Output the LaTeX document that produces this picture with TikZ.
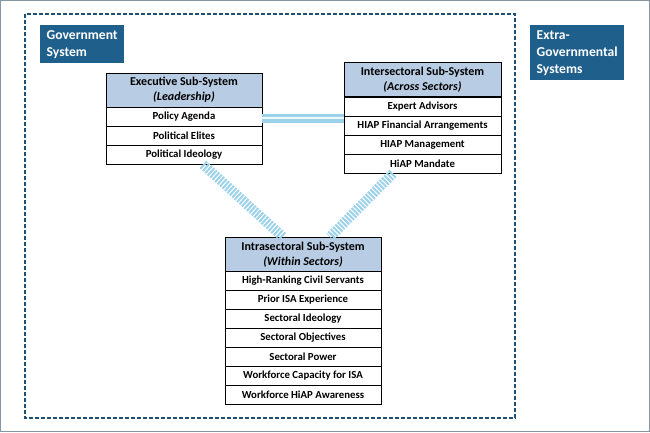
\documentclass[tikz,border=0pt]{standalone}
\usepackage{fontspec}
\setmainfont{Carlito}
\usetikzlibrary{positioning}
\definecolor{govblue}{HTML}{1F5F8C}
\definecolor{dashblue}{HTML}{1F4E79}
\definecolor{headblue}{HTML}{B8CCE4}
\definecolor{linkblue}{HTML}{9CD2EA}
\definecolor{framegrey}{HTML}{8595A2}
\tikzset{
  label box/.style={fill=govblue, text=white, anchor=north west, inner sep=3pt,
    align=left, font=\fontsize{13.6}{17}\selectfont\bfseries},
  head box/.style={draw, fill=headblue, anchor=north, minimum width=156pt,
    minimum height=34pt, inner sep=0pt, align=center,
    font=\fontsize{12}{15}\selectfont\bfseries},
  row box/.style={draw, fill=white, anchor=north, minimum width=156pt,
    minimum height=19pt, inner sep=0pt, font=\fontsize{10.8}{12}\selectfont\bfseries},
  rail/.style={linkblue, line width=10pt, dash pattern=on 2pt off 1.3pt},
  double rail/.style={linkblue, line width=3.5pt, double=white!85!linkblue, double distance=2pt}
}
\begin{document}
\begin{tikzpicture}[x=1pt,y=-1pt]
  \useasboundingbox (0,0) rectangle (650,432);
  \draw[framegrey, line width=1pt] (0.5,0.5) rectangle (649.5,431.5);
  \draw[dashblue, line width=2pt, dash pattern=on 4pt off 2pt] (25,14) rectangle (515,418);

  % system labels
  \node[label box, minimum width=84pt, minimum height=38pt] (gov) at (40,25) {Government\\System};
  \node[label box, minimum width=94pt, minimum height=55pt] (extra) at (530,25) {Extra-\\Governmental\\Systems};

  % executive
  \node[head box] (exec) at (184,73) {Executive Sub-System\\\textit{(Leadership)}};
  \node[row box] (pa) at (184,107) {Policy Agenda};
  \node[row box] (pe) at (184,126) {Political Elites};
  \node[row box] (pi) at (184,145) {Political Ideology};

  % intersectoral
  \node[head box, minimum width=157pt] (inter) at (422.5,62) {Intersectoral Sub-System\\\textit{(Across Sectors)}};
  \node[row box, minimum width=157pt] (ea) at (422.5,97) {Expert Advisors};
  \node[row box, minimum width=157pt] (hf) at (422.5,116) {HIAP Financial Arrangements};
  \node[row box, minimum width=157pt] (hm) at (422.5,135) {HIAP Management};
  \node[row box, minimum width=157pt] (hd) at (422.5,154) {HiAP Mandate};

  % intrasectoral
  \node[head box] (intra) at (303,237) {Intrasectoral Sub-System\\\textit{(Within Sectors)}};
  \foreach \t [count=\i] in {High-Ranking Civil Servants, Prior ISA Experience,
      Sectoral Ideology, Sectoral Objectives, Sectoral Power,
      Workforce Capacity for ISA, Workforce HiAP Awareness}
    \node[row box] (in\i) at (303,{271+19*(\i-1)}) {\t};

  % links
  \draw[double rail] ([yshift=-1.5pt]pa.east) -- ([yshift=-1.5pt]pa.east -| inter.west);
  \draw[rail] ([xshift=19pt]pi.south) -- ([xshift=-20pt]intra.north);
  \draw[rail] ([xshift=-29.5pt]hd.south) -- ([xshift=27pt]intra.north);
\end{tikzpicture}
\end{document}
